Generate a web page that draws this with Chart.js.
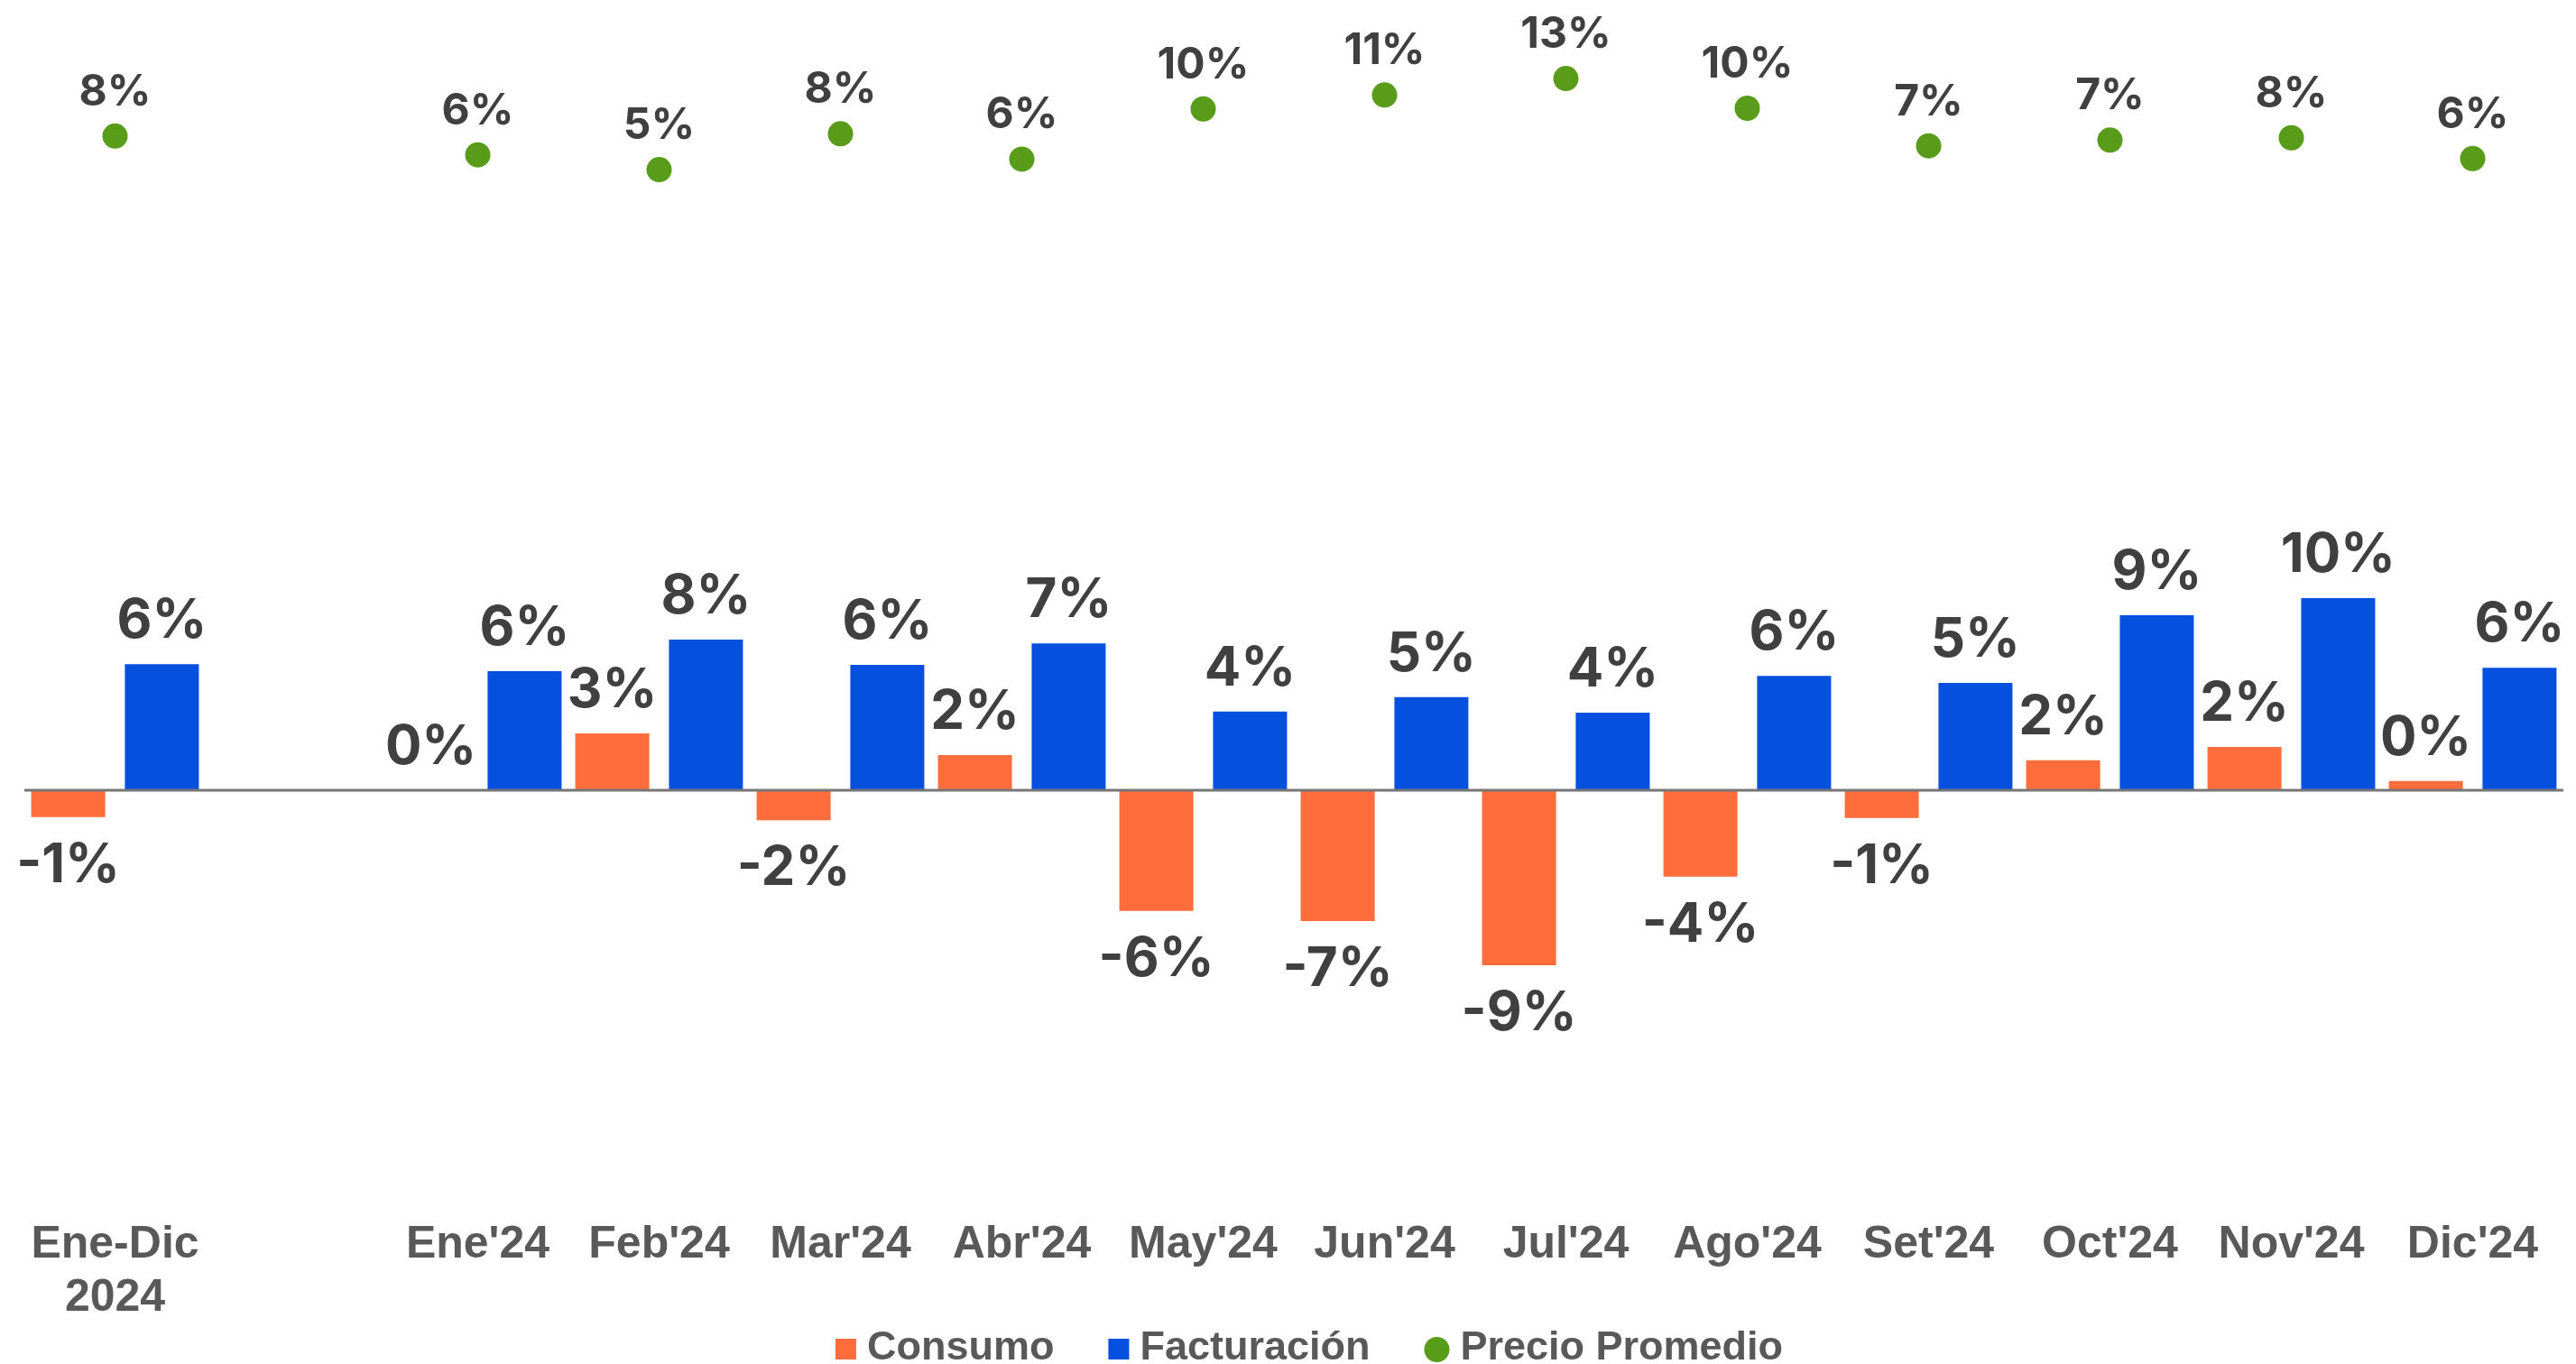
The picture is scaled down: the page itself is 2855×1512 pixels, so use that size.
<!DOCTYPE html>
<html>
<head>
<meta charset="utf-8">
<script src="https://cdn.jsdelivr.net/npm/chart.js@4.4.1/dist/chart.umd.min.js"></script>
<style>
html,body{margin:0;padding:0;background:#ffffff;overflow:hidden}
#wrap{position:relative;width:2855px;height:1512px}
</style>
</head>
<body>
<div id="wrap"><canvas id="c" width="2855" height="1512"></canvas></div>
<script>
// ---- data ----
const categories = [['Ene-Dic', '2024'], '', "Ene'24", "Feb'24", "Mar'24", "Abr'24", "May'24", "Jun'24", "Jul'24", "Ago'24", "Set'24", "Oct'24", "Nov'24", "Dic'24"];
const consumo     = [-1.35, null, 0.00, 2.86, -1.51, 1.77, -6.08, -6.59, -8.82, -4.35, -1.40, 1.51, 2.18, 0.47];
const facturacion = [ 6.35, null, 6.00, 7.59,  6.32, 7.40,  3.97,  4.70,  3.91,  5.76,  5.41, 8.82, 9.68, 6.17];
const precio      = [ 7.75, null, 6.14, 4.88,  7.94, 5.78, 10.06, 11.25, 12.65, 10.12,  6.91, 7.40, 7.60, 5.83];
const seriesNames = ['Consumo', 'Facturación', 'Precio Promedio'];

// ---- styles ----
const COL_CONSUMO = '#FF6D3D';
const COL_FACT = '#0650E0';
const COL_PRECIO = '#589C19';
const LABEL_COLOR = '#404040';
const AXIS_COLOR = '#595959';

function fmt(v) { const r = Math.round(v) || 0; return r + '%'; }

const zeroLinePlugin = {
  id: 'zeroLine',
  afterDatasetsDraw(chart) {
    const {ctx, chartArea} = chart;
    const y = chart.scales.y.getPixelForValue(0);
    ctx.save();
    ctx.strokeStyle = '#767676';
    ctx.lineWidth = 3;
    ctx.beginPath();
    ctx.moveTo(chartArea.left, y);
    ctx.lineTo(chartArea.right, y);
    ctx.stroke();
    ctx.restore();
  }
};

const dataLabelPlugin = {
  id: 'dataLabels',
  afterDatasetsDraw(chart) {
    const ctx = chart.ctx;
    ctx.save();
    ctx.fillStyle = LABEL_COLOR;
    ctx.textAlign = 'center';
    ctx.textBaseline = 'alphabetic';
    chart.data.datasets.forEach((ds, i) => {
      const meta = chart.getDatasetMeta(i);
      meta.data.forEach((el, j) => {
        const v = ds.data[j];
        if (v === null || v === undefined) return;
        const txt = fmt(v);
        let y;
        if (ds.type === 'line') {
          ctx.font = '700 48px Inter, "Open Sans", sans-serif';
          y = el.y - 34;
        } else {
          ctx.font = '700 60px Inter, "Open Sans", sans-serif';
          y = v >= 0 ? el.y - 29 : el.y + 72;
        }
        ctx.fillText(txt, el.x, y);
      });
    });
    ctx.restore();
  }
};

const legendPlugin = {
  id: 'customLegend',
  afterDraw(chart) {
    const ctx = chart.ctx;
    ctx.save();
    ctx.font = 'bold 45px "Liberation Sans", Arial, sans-serif';
    ctx.textBaseline = 'alphabetic';
    ctx.textAlign = 'left';
    const items = chart.data.datasets.map(ds => ({text: ds.label, color: ds.backgroundColor, style: ds.type === 'line' ? 'circle' : 'rect'}));
    const box = 23, gap = 12, sep = 60, dot = 28;
    const widths = items.map(it => (it.style === 'circle' ? dot : box) + gap + ctx.measureText(it.text).width);
    const total = widths.reduce((a, b) => a + b, 0) + sep * (items.length - 1);
    let x = 1451 - total / 2;
    const base = 1507;
    items.forEach((it, k) => {
      ctx.fillStyle = it.color;
      let w;
      if (it.style === 'circle') {
        ctx.beginPath();
        ctx.arc(x + dot / 2, base - 11, dot / 2, 0, Math.PI * 2);
        ctx.fill();
        w = dot;
      } else {
        ctx.fillRect(x, base - box, box, box);
        w = box;
      }
      ctx.fillStyle = AXIS_COLOR;
      ctx.fillText(it.text, x + w + gap, base);
      x += widths[k] + sep;
    });
    ctx.restore();
  }
};

new Chart(document.getElementById('c'), {
  data: {
    labels: categories,
    datasets: [
      {
        type: 'bar', label: seriesNames[0], data: consumo, yAxisID: 'y',
        backgroundColor: COL_CONSUMO, categoryPercentage: 1.033, barPercentage: 0.79, order: 1
      },
      {
        type: 'bar', label: seriesNames[1], data: facturacion, yAxisID: 'y',
        backgroundColor: COL_FACT, categoryPercentage: 1.033, barPercentage: 0.79, order: 1
      },
      {
        type: 'line', label: seriesNames[2], data: precio, yAxisID: 'y2',
        showLine: false, backgroundColor: COL_PRECIO, borderColor: COL_PRECIO,
        pointRadius: 14, pointHoverRadius: 14, pointBorderWidth: 0, order: 0
      }
    ]
  },
  options: {
    responsive: false,
    animation: false,
    devicePixelRatio: 1,
    layout: {autoPadding: false, padding: {left: 27, right: 14, top: 0, bottom: 33}},
    plugins: {
      legend: {display: false},
      tooltip: {enabled: false}
    },
    scales: {
      x: {
        grid: {display: false, drawTicks: false},
        border: {display: false},
        ticks: {
          autoSkip: false, maxRotation: 0, padding: 10.5, color: AXIS_COLOR,
          font: {family: '"Liberation Sans", Arial, sans-serif', weight: 'bold', size: 50, lineHeight: 1.18}
        }
      },
      y: {display: false, min: -21.09, max: 39.82},
      y2: {display: false, min: -83.73, max: 19.35}
    }
  },
  plugins: [zeroLinePlugin, dataLabelPlugin, legendPlugin]
});
</script>
</body>
</html>
